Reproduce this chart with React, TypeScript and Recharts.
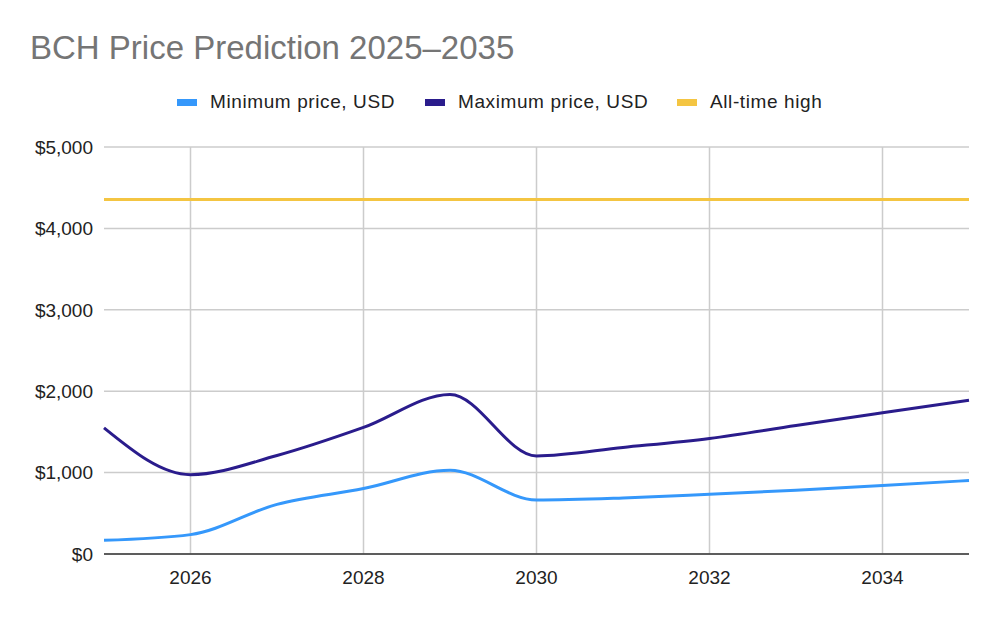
import { CartesianGrid, Line, LineChart, ReferenceLine, XAxis, YAxis } from 'recharts';

const YEARS = [2025, 2026, 2027, 2028, 2029, 2030, 2031, 2032, 2033, 2034, 2035];
const MIN_PRICE = [168, 238, 610, 804, 1030, 664, 689, 734, 784, 841, 903];
const MAX_PRICE = [1550, 975, 1210, 1555, 1960, 1205, 1309, 1420, 1579, 1735, 1890];
const ALL_TIME_HIGH = 4355;
const X_TICKS = [2026, 2028, 2030, 2032, 2034];
const Y_TICKS = [0, 1000, 2000, 3000, 4000, 5000];

const BLUE = '#3598fb';
const NAVY = '#2a1c8c';
const GOLD = '#f4c542';
const FONT = '"Liberation Sans", Arial, sans-serif';

const data = YEARS.map((year, i) => ({
  year,
  min: MIN_PRICE[i],
  max: MAX_PRICE[i],
  ath: ALL_TIME_HIGH,
}));

const legendItems = [
  { label: 'Minimum price, USD', color: BLUE, left: 177 },
  { label: 'Maximum price, USD', color: NAVY, left: 425 },
  { label: 'All-time high', color: GOLD, left: 677 },
];

const tick = { fontSize: 19, fill: '#222', fontFamily: FONT };

export default function App() {
  return (
    <div style={{ position: 'absolute', left: 0, top: 0, width: 1000, height: 618, background: '#fff' }}>
      <div
        style={{
          position: 'absolute',
          left: 30,
          top: 29,
          fontFamily: FONT,
          fontSize: 33,
          color: '#757575',
          whiteSpace: 'nowrap',
        }}
      >
        BCH Price Prediction 2025–2035
      </div>
      {legendItems.map((it) => (
        <div
          key={it.label}
          style={{
            position: 'absolute',
            left: it.left,
            top: 91,
            display: 'flex',
            alignItems: 'center',
            fontFamily: FONT,
            fontSize: 19,
            letterSpacing: 0.6,
            color: '#222',
            whiteSpace: 'nowrap',
          }}
        >
          <span style={{ display: 'inline-block', width: 20, height: 7, background: it.color, marginRight: 13 }} />
          {it.label}
        </div>
      ))}
      <LineChart
        width={1000}
        height={618}
        data={data}
        margin={{ top: 147, right: 31, bottom: 34, left: 0 }}
        style={{ position: 'absolute', left: 0, top: 0 }}
      >
        <CartesianGrid stroke="#cccccc" strokeWidth={1.5} vertical={false} />
        {X_TICKS.map((t) => (
          <ReferenceLine key={t} x={t} stroke="#cccccc" strokeWidth={1.5} />
        ))}
        <XAxis
          dataKey="year"
          type="number"
          domain={[2025, 2035]}
          ticks={X_TICKS}
          tickLine={false}
          axisLine={{ stroke: '#333', strokeWidth: 1.5 }}
          tick={tick}
          tickMargin={11}
        />
        <YAxis
          width={104}
          domain={[0, 5000]}
          ticks={Y_TICKS}
          tickLine={false}
          axisLine={false}
          tick={tick}
          tickMargin={5}
          tickFormatter={(v) => `$${Number(v).toLocaleString('en-US')}`}
        />
        <Line type="monotone" dataKey="ath" stroke={GOLD} strokeWidth={3} dot={false} isAnimationActive={false} />
        <Line type="monotone" dataKey="min" stroke={BLUE} strokeWidth={3} dot={false} isAnimationActive={false} />
        <Line type="monotone" dataKey="max" stroke={NAVY} strokeWidth={3} dot={false} isAnimationActive={false} />
      </LineChart>
    </div>
  );
}
